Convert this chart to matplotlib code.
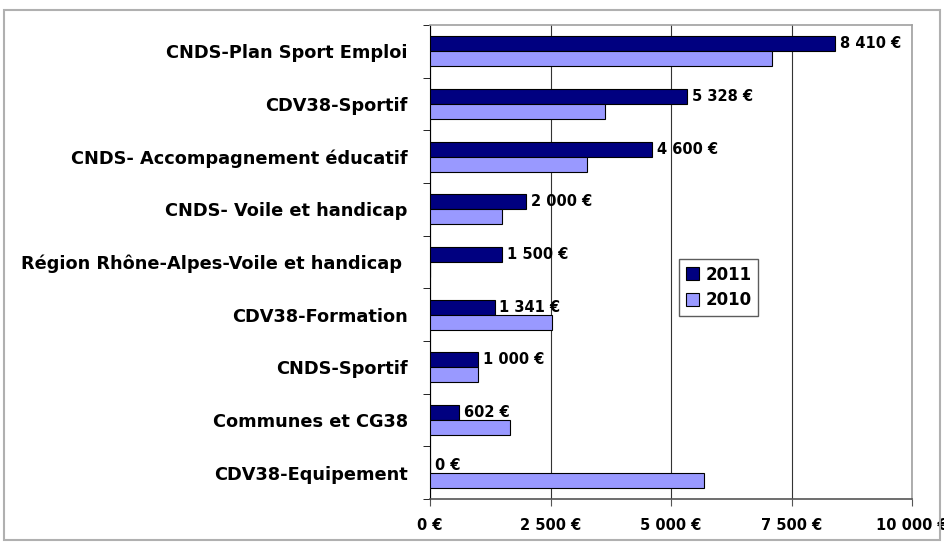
import numpy as np
import matplotlib
matplotlib.use("Agg")
import matplotlib.pyplot as plt
from matplotlib.patches import Rectangle

categories = ['CNDS-Plan Sport Emploi', 'CDV38-Sportif', 'CNDS- Accompagnement éducatif',
              'CNDS- Voile et handicap', 'Région Rhône-Alpes-Voile et handicap ',
              'CDV38-Formation', 'CNDS-Sportif', 'Communes et CG38', 'CDV38-Equipement']
values_2011 = [8410, 5328, 4600, 2000, 1500, 1341, 1000, 602, 0]
values_2010 = [7100, 3630, 3260, 1500, 0, 2540, 1000, 1660, 5690]
ticks = [0, 2500, 5000, 7500, 10000]

plt.rcParams['font.family'] = ['DejaVu Sans']
plt.rcParams['font.weight'] = 'bold'


def euro(v):
    return '{:,}'.format(v).replace(',', ' ') + ' €'


fig = plt.figure(figsize=(9.45, 5.44), dpi=100)
ax = fig.add_axes([430 / 945, 1 - 499 / 544, 482 / 945, 474 / 544])

fig.patches.append(Rectangle((4 / 945, 4 / 544), 936 / 945, 530 / 544, transform=fig.transFigure,
                             fill=False, edgecolor='#b0b0b0', lw=1.5))

y = np.arange(len(categories))
h = 0.285
ax.barh(y - h / 2, values_2011, height=h, color='#000080', edgecolor='black', lw=0.8, label='2011', zorder=3)
ax.barh(y + h / 2, values_2010, height=h, color='#9999ff', edgecolor='black', lw=0.8, label='2010', zorder=3)

for yi, v in zip(y, values_2011):
    ax.text(v + 100, yi - h / 2, euro(v), va='center', ha='left', fontsize=10.5, fontweight='bold', zorder=4)

ax.set_xlim(0, 10000)
ax.set_ylim(len(categories) - 0.5, -0.5)
ax.set_xticks(ticks)
ax.set_xticklabels([euro(t) for t in ticks], fontsize=10.5, fontweight='bold')
ax.set_yticks(y)
ax.set_yticklabels(categories, fontsize=12.8, fontweight='bold')
ax.set_yticks(np.arange(len(categories) + 1) - 0.5, minor=True)
ax.tick_params(axis='y', which='major', length=0, pad=16)
ax.tick_params(axis='y', which='minor', length=5, direction='out', color='black')
ax.tick_params(axis='x', length=5, direction='out', color='#555555', pad=9)
ax.xaxis.grid(True, color='#333333', lw=0.8, zorder=0)

for s in ['top', 'right']:
    ax.spines[s].set_color('#a0a0a0')
    ax.spines[s].set_linewidth(1.2)
ax.spines['left'].set_color('black')
ax.spines['bottom'].set_color('#555555')
ax.spines['bottom'].set_linewidth(1.2)

leg = ax.legend(loc='upper left', bbox_to_anchor=((679 - 430) / 482, (499 - 259) / 474),
                prop={'weight': 'bold', 'size': 12}, frameon=True, fancybox=False,
                handlelength=0.8, handleheight=0.8, handletextpad=0.4, borderpad=0.4,
                labelspacing=0.45, borderaxespad=0)
leg.get_frame().set_edgecolor('#333333')
leg.get_frame().set_linewidth(1.0)

fig.savefig('out.png', dpi=100)
